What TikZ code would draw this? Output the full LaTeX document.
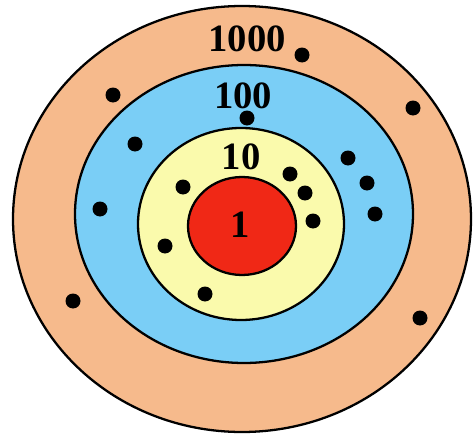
\documentclass[tikz,border=0pt]{standalone}
\usepackage{fontspec}
\setmainfont{Liberation Serif}
\usetikzlibrary{positioning}

\definecolor{ringpeach}{RGB}{246,186,140}
\definecolor{ringblue}{RGB}{122,206,246}
\definecolor{ringyellow}{RGB}{250,250,172}
\definecolor{ringred}{RGB}{240,40,22}

\begin{document}
\begin{tikzpicture}[
    x = 0.02cm, %
    y = -0.02cm, %
    ring/.style = {draw = black, line width = 1.3pt}, %
    score/.style = {font = \fontsize{22}{24}\selectfont\bfseries, inner sep = 0pt}
    ]

    \tikzset{shot/.style={fill = black}}

    \useasboundingbox (0,0) rectangle (474,436);

    \filldraw[ring, fill = ringpeach]  (242,219) ellipse (229 and 213);
    \filldraw[ring, fill = ringblue]   (244,214) ellipse (169 and 149);
    \filldraw[ring, fill = ringyellow] (241,224) ellipse (103 and 96);
    \filldraw[ring, fill = ringred]    (242,226) ellipse (54 and 49);

    \node[score] (s1000) at (247,39)  {1000};
    \node[score] (s100)  at (243,96)  {100};
    \node[score] (s10)   at (241,157) {10};
    \node[score] (s1)    at (240,225) {1};

    \foreach \x/\y in {302/55, 113/95, 413/108, 247/118, 135/144, 348/158,
                       290/174, 183/187, 305/193, 367/183, 100/209, 313/221,
                       375/214, 165/246, 205/294, 73/301, 420/318}
        \fill[shot] (\x,\y) circle (7.5);

\end{tikzpicture}
\end{document}
